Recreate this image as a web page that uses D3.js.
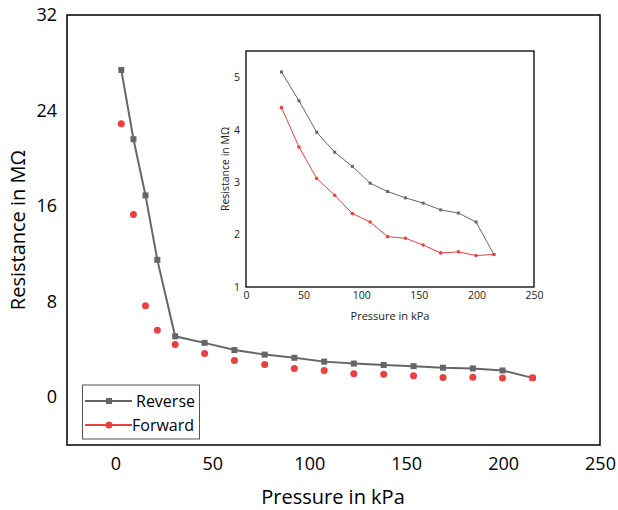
<!DOCTYPE html>
<html>
<head>
<meta charset="utf-8">
<script src="https://cdn.jsdelivr.net/npm/d3@7"></script>
<style>
  body { margin: 0; background: #fff; }
  text { font-family: "Open Sans", sans-serif; }
</style>
</head>
<body>
<div id="chart"></div>
<script>
// dane
var pressure = [3, 9.3, 15.5, 21.6, 30.8, 46, 61.4, 77, 92.3, 107.7, 123, 138.4, 153.8, 169, 184.4, 199.7, 215.2];
var reverse  = [27.4, 21.6, 16.9, 11.5, 5.1, 4.55, 3.95, 3.57, 3.3, 2.98, 2.82, 2.7, 2.6, 2.47, 2.41, 2.24, 1.62];
var forward  = [22.9, 15.3, 7.65, 5.6, 4.42, 3.67, 3.07, 2.75, 2.4, 2.24, 1.96, 1.93, 1.8, 1.65, 1.67, 1.6, 1.62];

var mainXTicks = [0, 50, 100, 150, 200, 250];
var mainYTicks = [0, 8, 16, 24, 32];
var insetXTicks = [0, 50, 100, 150, 200, 250];
var insetYTicks = [1, 2, 3, 4, 5];
var insetStart = 4; // inset pokazuje punkty od 30.8 kPa

var series = ["Reverse", "Forward"];
var grey = "#666666", red = "#e8413f";
var fmt = d3.format("d");

var svg = d3.select("#chart").append("svg")
    .attr("width", 618)
    .attr("height", 510);

// glowny wykres
var x = d3.scaleLinear().domain([-25, 250]).range([67, 600]);
var y = d3.scaleLinear().domain([-4, 32]).range([445, 15]);

svg.append("g")
    .attr("transform", "translate(0,445)")
    .call(d3.axisBottom(x).tickValues(mainXTicks).tickFormat(fmt).tickSize(0).tickPadding(12))
    .call(function(g){ g.select(".domain").remove(); })
    .selectAll("text")
    .style("font-size", "18px")
    .style("fill", "#000");

svg.append("g")
    .attr("transform", "translate(67,0)")
    .call(d3.axisLeft(y).tickValues(mainYTicks).tickFormat(fmt).tickSize(0).tickPadding(10))
    .call(function(g){ g.select(".domain").remove(); })
    .selectAll("text")
    .style("font-size", "18px")
    .style("fill", "#000");

svg.append("rect")
    .attr("x", 67).attr("y", 15)
    .attr("width", 533).attr("height", 430)
    .attr("fill", "none")
    .attr("stroke", "#000")
    .attr("stroke-width", 1.5);

svg.append("text")
    .attr("x", 333).attr("y", 504)
    .attr("text-anchor", "middle")
    .style("font-size", "20px")
    .text("Pressure in kPa");

svg.append("text")
    .attr("transform", "translate(25,230) rotate(-90)")
    .attr("text-anchor", "middle")
    .style("font-size", "20px")
    .text("Resistance in MΩ");

var line = d3.line()
    .x(function(d){ return x(d[0]); })
    .y(function(d){ return y(d[1]); });

var revData = pressure.map(function(p, i){ return [p, reverse[i]]; });
var fwdData = pressure.map(function(p, i){ return [p, forward[i]]; });

svg.append("path")
    .datum(revData)
    .attr("d", line)
    .attr("fill", "none")
    .attr("stroke", grey)
    .attr("stroke-width", 2);

svg.selectAll(".revSq").data(revData).enter().append("rect")
    .attr("x", function(d){ return x(d[0]) - 3; })
    .attr("y", function(d){ return y(d[1]) - 3; })
    .attr("width", 6).attr("height", 6)
    .attr("fill", grey);

svg.selectAll(".fwdPt").data(fwdData).enter().append("circle")
    .attr("cx", function(d){ return x(d[0]); })
    .attr("cy", function(d){ return y(d[1]); })
    .attr("r", 3.5)
    .attr("fill", red);

// legenda
var leg = svg.append("g");
leg.append("rect")
    .attr("x", 82.5).attr("y", 385)
    .attr("width", 117).attr("height", 54)
    .attr("fill", "#fff")
    .attr("stroke", "#555")
    .attr("stroke-width", 1);

series.forEach(function(s, i){
    var ly = 401 + i * 24;
    var c = i === 0 ? grey : red;
    leg.append("line")
        .attr("x1", 85).attr("x2", 132)
        .attr("y1", ly).attr("y2", ly)
        .attr("stroke", c)
        .attr("stroke-width", 2);
    if (i === 0) {
        leg.append("rect").attr("x", 106).attr("y", ly - 3)
            .attr("width", 6).attr("height", 6).attr("fill", c);
    } else {
        leg.append("circle").attr("cx", 109).attr("cy", ly)
            .attr("r", 3.5).attr("fill", c);
    }
    leg.append("text")
        .attr("x", i === 0 ? 136 : 132).attr("y", ly + 6)
        .style("font-size", "16px")
        .text(s);
});

// wstawka (inset)
var xi = d3.scaleLinear().domain([0, 250]).range([246, 534]);
var yi = d3.scaleLinear().domain([1, 5.5]).range([287, 51]);

svg.append("g")
    .attr("transform", "translate(0,287)")
    .call(d3.axisBottom(xi).tickValues(insetXTicks).tickFormat(fmt).tickSize(0).tickPadding(5))
    .call(function(g){ g.select(".domain").remove(); })
    .selectAll("text")
    .style("font-size", "10.5px")
    .style("fill", "#222");

svg.append("g")
    .attr("transform", "translate(246,0)")
    .call(d3.axisLeft(yi).tickValues(insetYTicks).tickFormat(fmt).tickSize(0).tickPadding(6))
    .call(function(g){ g.select(".domain").remove(); })
    .selectAll("text")
    .style("font-size", "10.5px")
    .style("fill", "#222");

svg.append("rect")
    .attr("x", 246).attr("y", 51)
    .attr("width", 288).attr("height", 236)
    .attr("fill", "none")
    .attr("stroke", "#000")
    .attr("stroke-width", 1.3);

svg.append("text")
    .attr("x", 390).attr("y", 320)
    .attr("text-anchor", "middle")
    .style("font-size", "11px")
    .style("fill", "#222")
    .text("Pressure in kPa");

svg.append("text")
    .attr("transform", "translate(229,169) rotate(-90)")
    .attr("text-anchor", "middle")
    .style("font-size", "10.5px")
    .style("fill", "#222")
    .text("Resistance in MΩ");

var lineI = d3.line()
    .x(function(d){ return xi(d[0]); })
    .y(function(d){ return yi(d[1]); });

var revI = revData.slice(insetStart);
var fwdI = fwdData.slice(insetStart);

svg.append("path").datum(revI).attr("d", lineI)
    .attr("fill", "none").attr("stroke", grey).attr("stroke-width", 1);
svg.append("path").datum(fwdI).attr("d", lineI)
    .attr("fill", "none").attr("stroke", red).attr("stroke-width", 1);

svg.selectAll(".revSqI").data(revI).enter().append("rect")
    .attr("x", function(d){ return xi(d[0]) - 1.5; })
    .attr("y", function(d){ return yi(d[1]) - 1.5; })
    .attr("width", 3).attr("height", 3)
    .attr("fill", grey);

svg.selectAll(".fwdPtI").data(fwdI).enter().append("circle")
    .attr("cx", function(d){ return xi(d[0]); })
    .attr("cy", function(d){ return yi(d[1]); })
    .attr("r", 1.8)
    .attr("fill", red);
</script>
</body>
</html>
